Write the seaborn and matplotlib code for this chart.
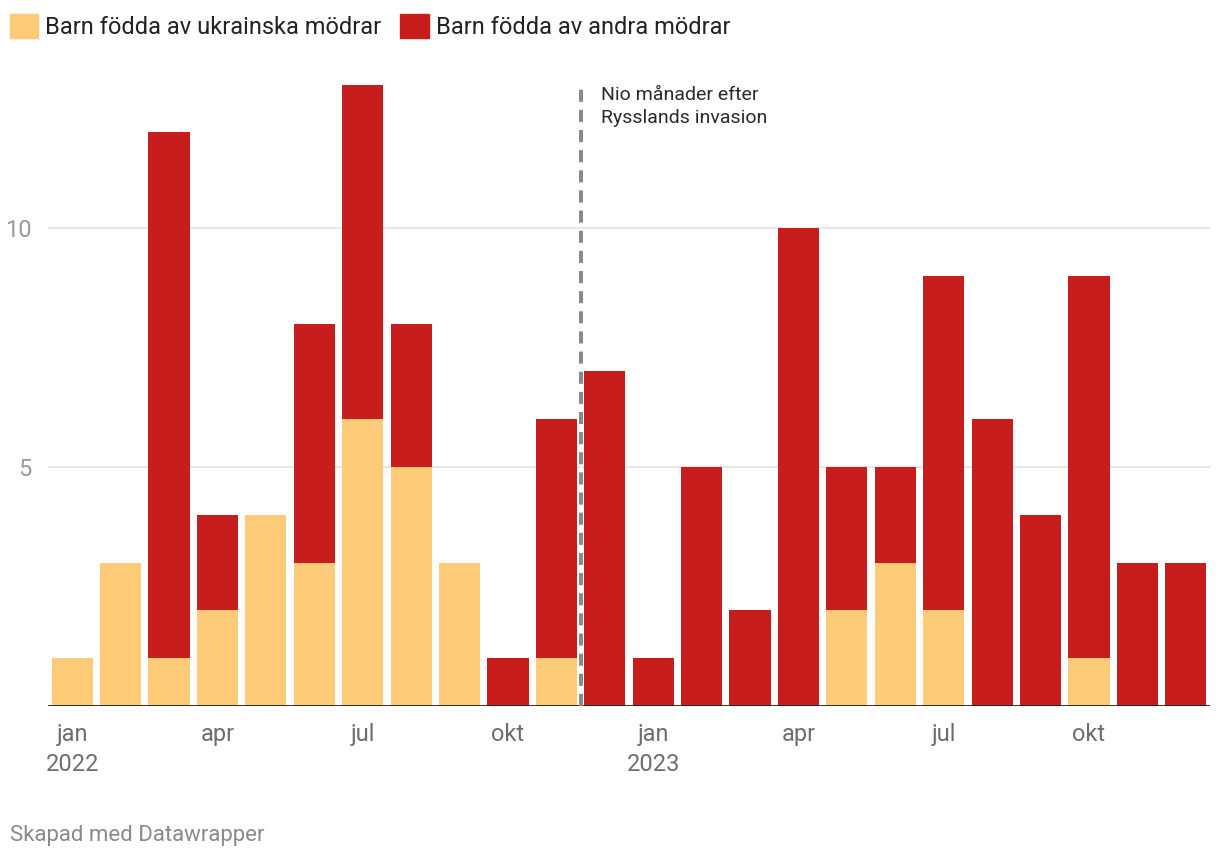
import numpy as np
import pandas as pd
import matplotlib
matplotlib.use("Agg")
import matplotlib.pyplot as plt
from matplotlib.patches import Patch
import seaborn as sns

# ==========================================
# Data: births per month, jan 2022 - dec 2023
# ==========================================
months = ["jan", "feb", "mar", "apr", "maj", "jun",
          "jul", "aug", "sep", "okt", "nov", "dec"]
years = [2022, 2023]
ukrainian_mothers = [1, 3, 1, 2, 4, 3, 6, 5, 3, 0, 1, 0,
                     0, 0, 0, 0, 2, 3, 2, 0, 0, 1, 0, 0]
other_mothers = [0, 0, 11, 2, 0, 5, 7, 3, 0, 1, 5, 7,
                 1, 5, 2, 10, 3, 2, 7, 6, 4, 8, 3, 3]
tick_months = ["jan", "apr", "jul", "okt"]
legend_labels = ["Barn födda av ukrainska mödrar", "Barn födda av andra mödrar"]
annotation = "Nio månader efter\nRysslands invasion"

ORANGE = "#fdca78"
RED = "#c71e1d"

period = [f"{m} {y}" for y in years for m in months]
df = pd.DataFrame({
    "period": period,
    "ukr": ukrainian_mothers,
    "other": other_mothers,
})
df["total"] = df["ukr"] + df["other"]

# ==========================================
# Plot
# ==========================================
sns.set_style("white")
plt.rcParams["font.family"] = ["Roboto", "DejaVu Sans"]

fig = plt.figure(figsize=(12.2, 8.6), dpi=100)
ax = fig.add_axes([48 / 1220, 154 / 860, 1162 / 1220, 13 * 47.8 / 860])

sns.barplot(data=df, x="period", y="total", color=RED, saturation=1,
            width=0.85, ax=ax, order=period, linewidth=0)
sns.barplot(data=df, x="period", y="ukr", color=ORANGE, saturation=1,
            width=0.85, ax=ax, order=period, linewidth=0)

ax.set_xlim(-0.5, len(period) - 0.5)
ax.set_ylim(0, 13)
for s in ax.spines.values():
    s.set_visible(False)

# y grid at 5 and 10
ax.set_yticks([5, 10])
ax.yaxis.grid(True, color="#e3e3e3", linewidth=1.2)
ax.set_axisbelow(True)
ax.tick_params(axis="y", length=0, pad=12, labelsize=17, labelcolor="#9a9a9a")
ax.axhline(0, color="#1e1e1e", linewidth=2)

# x ticks: quarterly months, year under january
tick_pos = [i for i, p in enumerate(period) if p.split()[0] in tick_months]
tick_lab = []
for i in tick_pos:
    m, y = period[i].split()
    tick_lab.append(f"{m}\n{y}" if m == "jan" else m)
ax.set_xticks(tick_pos)
ax.set_xticklabels(tick_lab, linespacing=1.4)
ax.tick_params(axis="x", length=0, pad=12, labelsize=17, labelcolor="#6e6e6e")
ax.set_xlabel("")
ax.set_ylabel("")

# dashed marker nine months after invasion (end of nov 2022)
nov_idx = period.index("nov 2022")
ax.plot([nov_idx + 0.5, nov_idx + 0.5], [0, 13], color="#8a8a8a", linewidth=2.9,
        linestyle=(0, (3, 2)), clip_on=False, zorder=5)
ax.text(nov_idx + 0.93, 12.97, annotation, fontsize=14, color="#2a2a2a",
        va="top", ha="left", linespacing=1.35)

# legend
handles = [Patch(color=ORANGE), Patch(color=RED)]
fig.legend(handles, legend_labels, loc="upper left", bbox_to_anchor=(-0.0035, 1.0),
           ncol=2, frameon=False, fontsize=17, handlelength=1.2, handleheight=1.2,
           handletextpad=0.3, columnspacing=0.8, borderaxespad=0.5, borderpad=0.1,
           labelcolor="#222222")

fig.text(10 / 1220, 25 / 860, "Skapad med Datawrapper", fontsize=16,
         color="#8a8a8a", va="center", ha="left")

fig.savefig("out.png", dpi=100)
plt.close(fig)
